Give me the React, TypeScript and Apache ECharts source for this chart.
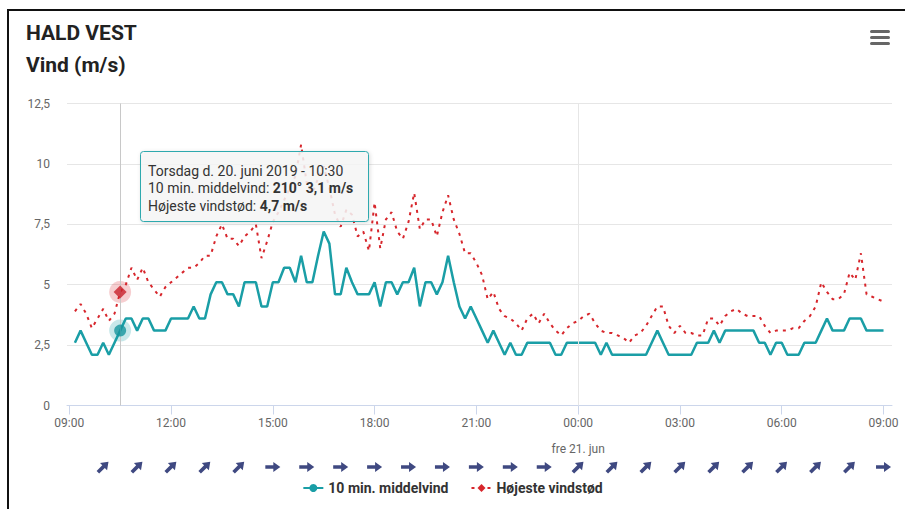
import React, { useEffect, useRef } from 'react';
import * as echarts from 'echarts';

// ---- data -------------------------------------------------------------
const START = Date.UTC(2019, 5, 20, 9, 10); // first sample 09:10
const STEP = 10 * 60 * 1000;
const DAY0 = Date.UTC(2019, 5, 20, 9, 0);
const HOUR = 3600 * 1000;

const middelvind: number[] = [
  2.6, 3.1, 2.6, 2.1, 2.1, // 09
  2.6, 2.1, 2.6, 3.1, 3.6, 3.6, // 10
  3.1, 3.6, 3.6, 3.1, 3.1, 3.1, // 11
  3.6, 3.6, 3.6, 3.6, 4.1, 3.6, // 12
  3.6, 4.6, 5.1, 5.1, 4.6, 4.6, // 13
  4.1, 5.1, 5.1, 5.1, 4.1, 4.1, // 14
  5.1, 5.1, 5.7, 5.7, 5.1, 6.2, // 15
  5.1, 5.1, 6.2, 7.2, 6.7, 4.6, // 16
  4.6, 5.7, 5.1, 4.6, 4.6, 4.6, // 17
  5.1, 4.1, 5.1, 5.1, 4.6, 5.1, // 18
  5.1, 5.7, 4.1, 5.1, 5.1, 4.6, // 19
  5.1, 6.2, 5.1, 4.1, 3.6, 4.1, // 20
  3.6, 3.1, 2.6, 3.1, 2.6, 2.1, // 21
  2.6, 2.1, 2.1, 2.6, 2.6, 2.6, // 22
  2.6, 2.6, 2.1, 2.1, 2.6, 2.6, // 23
  2.6, 2.6, 2.6, 2.6, 2.1, 2.6, // 00
  2.1, 2.1, 2.1, 2.1, 2.1, 2.1, // 01
  2.1, 2.6, 3.1, 2.6, 2.1, 2.1, // 02
  2.1, 2.1, 2.1, 2.6, 2.6, 2.6, // 03
  3.1, 2.6, 3.1, 3.1, 3.1, 3.1, // 04
  3.1, 3.1, 2.6, 2.6, 2.1, 2.6, // 05
  2.6, 2.1, 2.1, 2.1, 2.6, 2.6, // 06
  2.6, 3.1, 3.6, 3.1, 3.1, 3.1, // 07
  3.6, 3.6, 3.6, 3.1, 3.1, 3.1, // 08
  3.1, // 09:00
];

const vindstod: number[] = [
  3.9, 4.2, 3.8, 3.2, 3.6, // 09
  4.0, 3.5, 3.8, 4.7, 5.0, 5.7, // 10
  5.2, 5.7, 5.1, 4.8, 4.5, 4.9, // 11
  5.1, 5.3, 5.5, 5.7, 5.7, 5.9, // 12
  6.2, 6.2, 7.0, 7.5, 6.9, 6.9, // 13
  6.6, 7.0, 7.2, 7.5, 6.1, 6.8, // 14
  7.6, 8.0, 8.5, 9.0, 9.5, 10.8, // 15
  9.2, 8.8, 9.4, 9.9, 9.0, 7.9, // 16
  7.4, 8.1, 7.9, 7.0, 7.2, 6.4, // 17
  8.4, 6.5, 7.7, 8.0, 7.2, 6.9, // 18
  7.6, 8.8, 7.3, 7.7, 7.7, 7.0, // 19
  8.0, 8.7, 7.7, 7.1, 6.3, 6.3, // 20
  5.9, 5.4, 4.4, 4.7, 4.0, 3.7, // 21
  3.6, 3.4, 3.1, 3.6, 3.8, 3.4, // 22
  3.8, 3.4, 3.1, 2.9, 3.2, 3.4, // 23
  3.5, 3.7, 3.8, 3.4, 3.1, 3.0, // 00
  3.0, 2.9, 2.8, 2.6, 2.9, 3.0, // 01
  3.3, 3.7, 4.1, 4.1, 3.3, 3.0, // 02
  3.3, 3.0, 3.0, 2.9, 2.9, 3.6, // 03
  3.6, 3.3, 3.7, 3.9, 4.0, 3.8, // 04
  3.7, 3.7, 3.7, 3.3, 3.0, 3.1, // 05
  3.1, 3.1, 3.2, 3.2, 3.5, 3.7, // 06
  4.1, 5.1, 4.7, 4.4, 4.4, 4.6, // 07
  5.5, 5.2, 6.3, 4.6, 4.5, 4.4, // 08
  4.3, // 09:00
];

// hourly wind direction (degrees, from), hours after 09:00 on 20 June: 10:00 .. 09:00 next day
const retningTimer: number[] = [1, 2, 3, 4, 5, 6, 7, 8, 9, 10, 11, 12, 13, 14, 15, 16, 17, 18, 19, 20, 21, 22, 23, 24];
const retning: number[] = [
  225, 225, 225, 225, 225,
  270, 270, 270, 270, 270, 270, 270, 270, 270,
  225, 225, 225, 225, 225, 225, 225, 225, 225,
  270,
];

const xTickHours: number[] = [0, 3, 6, 9, 12, 15, 18, 21, 24];
const yTicks = { min: 0, max: 12.5, interval: 2.5 };

const hoverIndex = 8; // 10:30
const hoverDirection = 210;
const tooltipTitle = 'Torsdag d. 20. juni 2019 - 10:30';
const dayLabel = 'fre 21. jun';

const TEAL = '#1a9ea6';
const RED = '#d7262c';
const NAVY = '#0f1c62';

const fmt = (v: number) => v.toFixed(1).replace('.', ',');

export default function App() {
  const ref = useRef<HTMLDivElement>(null);

  useEffect(() => {
    if (!ref.current) return;
    const chart = echarts.init(ref.current, undefined, { renderer: 'svg' });

    const times = middelvind.map((_, i) => START + i * STEP);
    const tealData = middelvind.map((v, i) => [times[i], v]);
    const redData = vindstod.map((v, i) => [times[i], v]);
    const hoverTime = times[hoverIndex];
    const midnight = DAY0 + 15 * HOUR;
    const xMin = DAY0 - 4 * 60 * 1000;
    const xMax = DAY0 + 24 * HOUR + 15 * 60 * 1000;
    const tickValues = xTickHours.map((h) => DAY0 + h * HOUR);

    const arrowPath = 'path://M0,3.2 L8,3.2 L8,0 L15,5 L8,10 L8,6.8 L0,6.8 Z';
    const arrowData = retningTimer.map((h, k) => {
      const toward = (retning[k] + 180) % 360; // compass direction blowing to
      return {
        value: [DAY0 + h * HOUR, 0.5],
        symbolRotate: 90 - toward,
      };
    });

    const font = 'Roboto';
    const TZ = 100;

    chart.setOption({
      animation: false,
      textStyle: { fontFamily: font },
      grid: [
        { left: 67, top: 103.5, width: 825, height: 302 },
        { left: 67, top: 455, width: 825, height: 24 },
      ],
      xAxis: [
        {
          type: 'value',
          gridIndex: 0,
          min: xMin,
          max: xMax,
          axisLine: { show: true, lineStyle: { color: '#ccd6eb', width: 1 } },
          axisTick: { show: true, customValues: tickValues, length: 9, lineStyle: { color: '#ccd6eb' } },
          splitLine: { show: false },
          axisLabel: {
            customValues: tickValues,
            color: '#666',
            fontSize: 12,
            margin: 11,
            lineHeight: 13,
            formatter: (v: number) => {
              const d = new Date(v);
              const hh = String(d.getUTCHours()).padStart(2, '0');
              const s = `${hh}:00`;
              return v === midnight ? `${s}\n\n${dayLabel}` : s;
            },
          },
        },
        { type: 'value', gridIndex: 1, min: xMin, max: xMax, show: false },
      ],
      yAxis: [
        {
          type: 'value',
          gridIndex: 0,
          min: yTicks.min,
          max: yTicks.max,
          interval: yTicks.interval,
          axisLine: { show: false },
          axisTick: { show: false },
          splitLine: { lineStyle: { color: '#e6e6e6', width: 1 } },
          axisLabel: {
            color: '#666',
            fontSize: 12,
            margin: 17,
            formatter: (v: number) => String(v).replace('.', ','),
          },
        },
        { type: 'value', gridIndex: 1, min: 0, max: 1, show: false },
      ],
      legend: {
        data: ['10 min. middelvind', 'Højeste vindstød'],
        left: 'center',
        top: 476,
        itemWidth: 20,
        itemHeight: 10,
        itemGap: 22,
        textStyle: { color: '#333', fontSize: 14, fontWeight: 'bold', fontFamily: font },
      },
      series: [
        {
          name: '10 min. middelvind',
          type: 'line',
          data: tealData,
          showSymbol: false,
          symbol: 'circle',
          symbolSize: 8,
          itemStyle: { color: TEAL },
          lineStyle: { color: TEAL, width: 2.5 },
          z: 2,
          markLine: {
            silent: true,
            symbol: ['none', 'none'],
            label: { show: false },
            data: [
              { xAxis: hoverTime, lineStyle: { color: '#c8c8c8', width: 1, type: 'solid' } },
              { xAxis: midnight, lineStyle: { color: '#e6e6e6', width: 1, type: 'solid' } },
            ],
          },
        },
        {
          name: 'Højeste vindstød',
          type: 'line',
          data: redData,
          showSymbol: false,
          symbol: 'diamond',
          symbolSize: 9,
          itemStyle: { color: RED },
          lineStyle: { color: RED, width: 2, type: [3, 5] },
          z: 3,
        },
        {
          name: 'halo',
          type: 'scatter',
          data: [[hoverTime, middelvind[hoverIndex]]],
          symbol: 'circle',
          symbolSize: 22,
          itemStyle: { color: 'rgba(26,158,166,0.3)' },
          silent: true,
          z: 4,
        },
        {
          name: 'halo2',
          type: 'scatter',
          data: [[hoverTime, vindstod[hoverIndex]]],
          symbol: 'circle',
          symbolSize: 22,
          itemStyle: { color: 'rgba(215,38,44,0.28)' },
          silent: true,
          z: 4,
        },
        {
          name: 'hoverTeal',
          type: 'scatter',
          data: [[hoverTime, middelvind[hoverIndex]]],
          symbol: 'circle',
          symbolSize: 12,
          itemStyle: { color: '#16959d' },
          silent: true,
          z: 5,
        },
        {
          name: 'hoverRed',
          type: 'scatter',
          data: [[hoverTime, vindstod[hoverIndex]]],
          symbol: 'diamond',
          symbolSize: 13,
          itemStyle: { color: '#c8202a' },
          silent: true,
          z: 5,
        },
        {
          name: 'retning',
          type: 'scatter',
          xAxisIndex: 1,
          yAxisIndex: 1,
          data: arrowData,
          symbol: arrowPath,
          symbolSize: [15, 10],
          itemStyle: { color: NAVY },
          silent: true,
        },
      ],
      graphic: [
        { type: 'line', shape: { x1: 7, y1: 10, x2: 905, y2: 10 }, style: { stroke: '#111', lineWidth: 2 }, silent: true },
        { type: 'line', shape: { x1: 8, y1: 9, x2: 8, y2: 509 }, style: { stroke: '#111', lineWidth: 2 }, silent: true },
        {
          type: 'text', x: 26, y: 33,
          style: { text: 'HALD VEST', fontSize: 21, fontWeight: 'bold', fontFamily: font, fill: '#222', verticalAlign: 'middle', align: 'left' },
        },
        {
          type: 'text', x: 26, y: 65,
          style: { text: 'Vind (m/s)', fontSize: 21, fontWeight: 'bold', fontFamily: font, fill: '#222', verticalAlign: 'middle', align: 'left' },
        },
        { type: 'rect', shape: { x: 870, y: 30, width: 20, height: 3, r: 1.5 }, style: { fill: '#666' } },
        { type: 'rect', shape: { x: 870, y: 36, width: 20, height: 3, r: 1.5 }, style: { fill: '#666' } },
        { type: 'rect', shape: { x: 870, y: 42, width: 20, height: 3, r: 1.5 }, style: { fill: '#666' } },
        {
          type: 'rect',
          z: TZ,
          zlevel: 1,
          shape: { x: 140.5, y: 151.5, width: 228, height: 70, r: 3 },
          style: {
            fill: 'rgba(247,247,247,0.85)',
            stroke: '#2fa9ae',
            lineWidth: 1,
            shadowBlur: 4,
            shadowColor: 'rgba(0,0,0,0.15)',
            shadowOffsetX: 1,
            shadowOffsetY: 1,
          },
        },
        {
          type: 'text',
          z: TZ + 1,
          zlevel: 1,
          x: 148,
          y: 162,
          style: {
            text:
              `{n|${tooltipTitle}}\n` +
              `{n|10 min. middelvind: }{b|${hoverDirection}° ${fmt(middelvind[hoverIndex])} m/s}\n` +
              `{n|Højeste vindstød: }{b|${fmt(vindstod[hoverIndex])} m/s}`,
            fontFamily: font,
            fontSize: 14,
            fill: '#333',
            lineHeight: 17.5,
            rich: {
              n: { fontFamily: font, fontSize: 14, fill: '#333', lineHeight: 17.5 },
              b: { fontFamily: font, fontSize: 14, fill: '#333', fontWeight: 'bold', lineHeight: 17.5 },
            },
          },
        },
      ],
    });

    return () => chart.dispose();
  }, []);

  return (
    <div style={{ position: 'fixed', left: 0, top: 0, width: 905, height: 509, background: '#fff' }}>
      <div ref={ref} style={{ width: 905, height: 509 }} />
    </div>
  );
}
